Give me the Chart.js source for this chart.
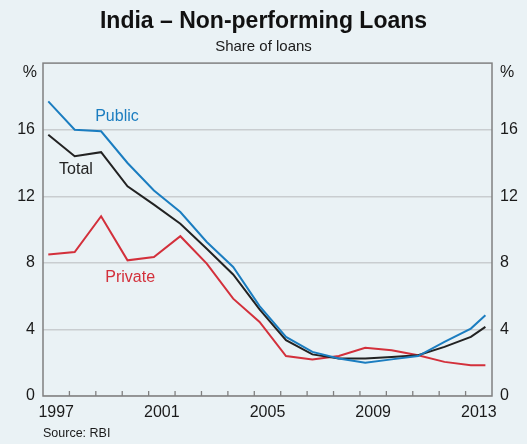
<!DOCTYPE html>
<html>
<head>
<meta charset="utf-8">
<script src="https://cdn.jsdelivr.net/npm/chart.js@4/dist/chart.umd.min.js"></script>
<style>
  html, body { margin: 0; padding: 0; background: #eaf2f5; }
  #wrap { width: 527px; height: 444px; position: relative; }
</style>
</head>
<body>
<div id="wrap"><canvas id="c"></canvas></div>
<script>
// ---- Data ----
const dates = [1997.2, 1998.2, 1999.2, 2000.2, 2001.2, 2002.2, 2003.2, 2004.2, 2005.2,
               2006.2, 2007.2, 2008.2, 2009.2, 2010.2, 2011.2, 2012.2, 2013.2, 2013.75];
const publicNPL  = [17.7, 16.0, 15.9, 14.0, 12.35, 11.05, 9.25, 7.75, 5.4, 3.55, 2.65, 2.25, 2.0, 2.2, 2.4, 3.25, 4.05, 4.85];
const totalNPL   = [15.7, 14.4, 14.65, 12.6, 11.5, 10.35, 8.85, 7.3, 5.2, 3.35, 2.5, 2.25, 2.25, 2.35, 2.45, 2.95, 3.55, 4.15];
const privateNPL = [8.5, 8.65, 10.8, 8.15, 8.35, 9.6, 7.95, 5.85, 4.45, 2.4, 2.2, 2.4, 2.9, 2.75, 2.45, 2.05, 1.85, 1.85];
const yTicks = [0, 4, 8, 12, 16];
const yearLabels = [1997, 2001, 2005, 2009, 2013];
const yearBoundaries = [1998, 1999, 2000, 2001, 2002, 2003, 2004, 2005, 2006, 2007, 2008, 2009, 2010, 2011, 2012, 2013];
const seriesNames = ['Public', 'Total', 'Private'];
const seriesColors = ['#1b7dc0', '#222222', '#d3303b'];
// inline label anchors (data coordinates)
const labelAnchors = [[1999.8, 16.8], [1998.25, 13.6], [2000.3, 7.1]];

const FONT = "'Liberation Sans', Arial, sans-serif";
const toXY = (xs, ys) => xs.map((x, i) => ({ x: x, y: ys[i] }));

const framePlugin = {
  id: 'frame',
  afterDatasetsDraw(chart) {
    const { ctx, chartArea: a, scales } = chart;
    ctx.save();
    // year tick marks pointing up from the bottom
    ctx.strokeStyle = '#808080';
    ctx.lineWidth = 1.3;
    yearBoundaries.forEach(v => {
      const px = scales.x.getPixelForValue(v);
      ctx.beginPath();
      ctx.moveTo(px, a.bottom);
      ctx.lineTo(px, a.bottom - 5);
      ctx.stroke();
    });
    // frame
    ctx.lineWidth = 1.5;
    ctx.strokeRect(a.left, a.top, a.right - a.left, a.bottom - a.top);
    // inline series labels
    ctx.font = '16px ' + FONT;
    ctx.textAlign = 'center';
    ctx.textBaseline = 'middle';
    labelAnchors.forEach((p, i) => {
      ctx.fillStyle = seriesColors[i];
      ctx.fillText(seriesNames[i], scales.x.getPixelForValue(p[0]), scales.y.getPixelForValue(p[1]));
    });
    // % unit labels
    ctx.fillStyle = '#1a1a1a';
    ctx.font = '16px ' + FONT;
    const py = scales.y.getPixelForValue(20) + 9;
    ctx.textAlign = 'right';
    ctx.fillText('%', a.left - 6, py);
    ctx.textAlign = 'left';
    ctx.fillText('%', a.right + 8, py);
    // source
    ctx.font = '12.5px ' + FONT;
    ctx.textAlign = 'left';
    ctx.textBaseline = 'alphabetic';
    ctx.fillText('Source: RBI', a.left, 437);
    ctx.restore();
  }
};

new Chart(document.getElementById('c'), {
  type: 'line',
  data: {
    datasets: [
      { label: seriesNames[0], data: toXY(dates, publicNPL),  borderColor: seriesColors[0] },
      { label: seriesNames[1], data: toXY(dates, totalNPL),   borderColor: seriesColors[1] },
      { label: seriesNames[2], data: toXY(dates, privateNPL), borderColor: seriesColors[2] }
    ]
  },
  options: {
    responsive: true,
    maintainAspectRatio: false,
    animation: false,
    devicePixelRatio: 1,
    layout: { padding: { top: 0, left: 0, right: 0, bottom: 18 } },
    elements: {
      line: { borderWidth: 2, tension: 0, fill: false },
      point: { radius: 0 }
    },
    plugins: {
      legend: { display: false },
      tooltip: { enabled: false },
      title: {
        display: true,
        text: 'India – Non-performing Loans',
        color: '#111',
        font: { family: FONT, size: 23, weight: 'bold' },
        padding: { top: 8, bottom: 2 }
      },
      subtitle: {
        display: true,
        text: 'Share of loans',
        color: '#1a1a1a',
        font: { family: FONT, size: 15 },
        padding: { top: 0, bottom: 7.5 }
      }
    },
    scales: {
      x: {
        type: 'linear',
        min: 1997,
        max: 2014,
        grid: { display: false, drawTicks: false },
        border: { display: false },
        afterBuildTicks: s => { s.ticks = yearLabels.map(v => ({ value: v + 0.5 })); },
        ticks: {
          callback: v => String(Math.floor(v)),
          color: '#1a1a1a',
          font: { family: FONT, size: 16 },
          padding: 7,
          maxRotation: 0,
          autoSkip: false
        },
        afterFit: s => { s.height = 30; }
      },
      y: {
        position: 'left',
        min: 0,
        max: 20,
        afterBuildTicks: s => { s.ticks = yTicks.map(v => ({ value: v })); },
        grid: { color: '#c9cdd0', lineWidth: 1.5, drawTicks: false },
        border: { display: false },
        ticks: { color: '#1a1a1a', font: { family: FONT, size: 16 }, padding: 8 },
        afterFit: s => { s.width = 43; }
      },
      y2: {
        position: 'right',
        min: 0,
        max: 20,
        afterBuildTicks: s => { s.ticks = yTicks.map(v => ({ value: v })); },
        grid: { display: false, drawTicks: false },
        border: { display: false },
        ticks: { color: '#1a1a1a', font: { family: FONT, size: 16 }, padding: 8 },
        afterFit: s => { s.width = 35; }
      }
    }
  },
  plugins: [framePlugin]
});
</script>
</body>
</html>
